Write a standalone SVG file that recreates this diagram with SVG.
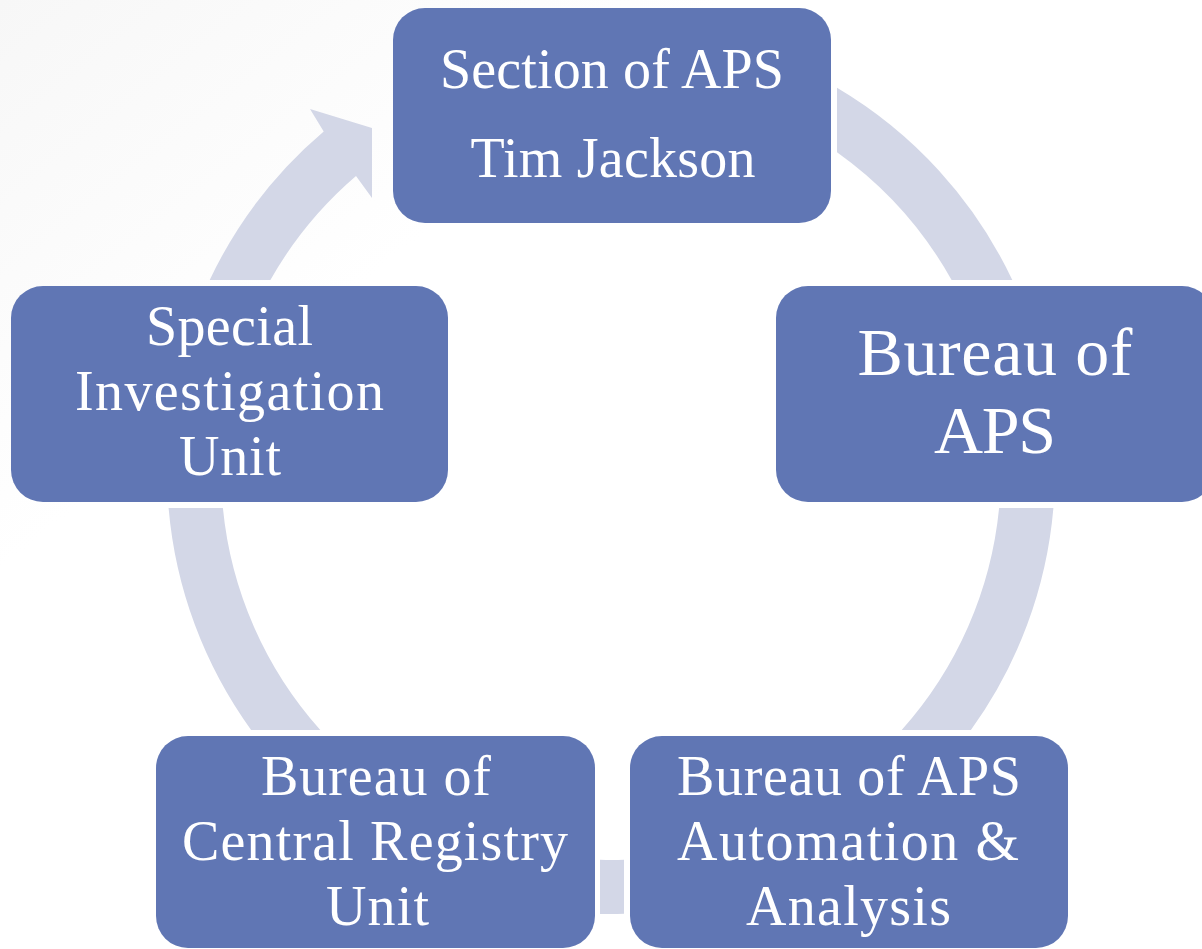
<svg xmlns="http://www.w3.org/2000/svg" width="1202" height="949" viewBox="0 0 1202 949">
  <defs>
    <linearGradient id="bg" x1="0" y1="0" x2="1" y2="1">
      <stop offset="0" stop-color="#F7F7F7"/>
      <stop offset="0.3" stop-color="#FFFFFF"/>
      <stop offset="1" stop-color="#FFFFFF"/>
    </linearGradient>
  </defs>
  <style>
    .box { fill: #6076B4; }
    .arc { fill: #D3D7E7; stroke: none; }
    .t { font-family: "Liberation Serif", "Times New Roman", serif; font-size: 56px; fill: #FFFFFF; text-anchor: middle; }
    .big { font-size: 68px; }
  </style>
  <rect x="0" y="0" width="1202" height="949" fill="url(#bg)"/>

  <g id="connectors">
    <path class="arc" d="M 837 87.8 A 444 444 0 0 1 1012.3 280 L 951.6 280 A 390 390 0 0 0 837 152.2 Z"/>
    <path class="arc" d="M 1053.4 508 A 444 444 0 0 1 970.9 730 L 901.7 730 A 390 390 0 0 0 999.1 508 Z"/>
    <path class="arc" d="M 600 859.8 A 390 390 0 0 0 624 859.8 L 624 913.8 A 444 444 0 0 1 600 913.9 Z"/>
    <path class="arc" d="M 168.6 508 L 222.9 508 A 390 390 0 0 0 320.3 730 L 251.1 730 A 444 444 0 0 1 168.6 508 Z"/>
    <path class="arc" d="M 209.7 280 A 444 444 0 0 1 323.7 131.5 L 310 109 L 372 128 L 372 198 L 356 176 A 390 390 0 0 0 270.4 280 Z"/>
  </g>

  <g id="node-section">
    <rect class="box" x="393" y="8" width="438" height="215" rx="32"/>
    <text class="t" x="612" y="88" textLength="344">Section of APS</text>
    <text class="t" x="613" y="177" textLength="285">Tim Jackson</text>
  </g>

  <g id="node-bureau">
    <rect class="box" x="776" y="286" width="438" height="216" rx="32"/>
    <text class="t big" x="995" y="375" textLength="275">Bureau of</text>
    <text class="t big" x="995" y="453" textLength="122">APS</text>
  </g>

  <g id="node-automation">
    <rect class="box" x="630" y="736" width="438" height="212" rx="32"/>
    <text class="t" x="849" y="795" textLength="344">Bureau of APS</text>
    <text class="t" x="848" y="860" textLength="342">Automation &amp;</text>
    <text class="t" x="848.5" y="925" textLength="205">Analysis</text>
  </g>

  <g id="node-registry">
    <rect class="box" x="156" y="736" width="439" height="212" rx="32"/>
    <text class="t" x="376" y="795" textLength="230">Bureau of</text>
    <text class="t" x="375" y="860" textLength="386">Central Registry</text>
    <text class="t" x="377.5" y="925" textLength="103">Unit</text>
  </g>

  <g id="node-special">
    <rect class="box" x="11" y="286" width="437" height="216" rx="32"/>
    <text class="t" x="229.5" y="345" textLength="167">Special</text>
    <text class="t" x="229.5" y="410" textLength="309">Investigation</text>
    <text class="t" x="230" y="475" textLength="102">Unit</text>
  </g>
</svg>
